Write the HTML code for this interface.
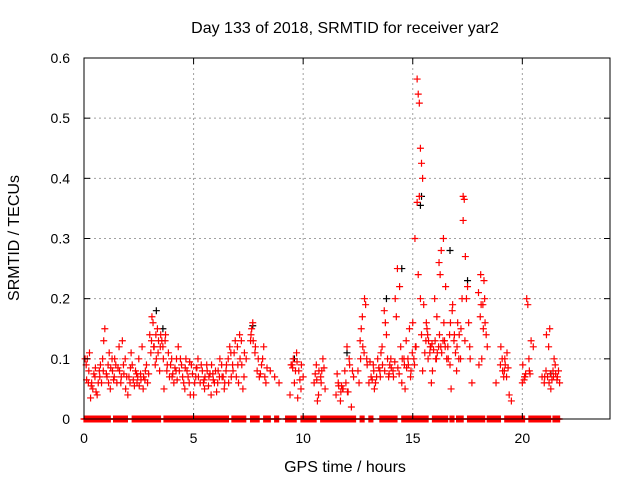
<!DOCTYPE html>
<html><head><meta charset="utf-8"><style>
body{margin:0;background:#fff}
svg text{font-family:"Liberation Sans",sans-serif;font-size:14px;fill:#000}
svg text.big{font-size:16px}
</style></head><body>
<svg id="c" width="640" height="480" viewBox="0 0 640 480">
<rect width="640" height="480" fill="#fff"/>
<g id="grid"></g>
<g id="marks"></g>
<rect x="84" y="58" width="526" height="361" fill="none" stroke="#000" stroke-width="1"/>
<g id="axes"></g>
<text class="big" x="345" y="33" text-anchor="middle">Day 133 of 2018, SRMTID for receiver yar2</text>
<text class="big" x="345" y="472" text-anchor="middle">GPS time / hours</text>
<text class="big" x="19" y="238" text-anchor="middle" transform="rotate(-90 19 238)">SRMTID / TECUs</text>
</svg>
<script>
const xTicks=[0,5,10,15,20];
const yTicks=[0,0.1,0.2,0.3,0.4,0.5,0.6];
const yTickLabels=["0","0.1","0.2","0.3","0.4","0.5","0.6"];
const redT=[0.1,.2,.25,.3,.4,.5,.6,.7,.8,.9,.95,.15,.35,.55,.75,
1.05,1.1,1.2,1.3,1.4,1.5,1.6,1.7,1.8,1.9,1.15,1.35,1.55,1.75,1.95,
2.0,2.1,2.2,2.3,2.4,2.5,2.6,2.7,2.8,2.9,2.15,2.45,2.65,2.85,
3.0,3.1,3.15,3.2,3.3,3.4,3.05,3.25,3.35,3.45,
3.5,3.6,3.7,3.8,3.9,4.0,4.1,4.2,4.3,4.4,3.65,3.85,4.05,4.25,
4.5,4.6,4.7,4.8,4.9,5.0,5.1,5.2,5.3,5.4,5.5,5.6,5.7,5.8,5.9,6.0,6.1,6.2,6.3,6.4,6.5,6.6,6.7,6.8,6.9,4.65,4.85,5.15,5.45,5.75,6.05,6.35,6.65,
7.0,7.1,7.2,7.3,7.4,7.6,7.65,7.7,7.8,7.9,7.05,7.25,
8.0,8.1,8.2,8.3,8.5,8.7,8.9,8.15,
9.4,9.5,9.6,9.7,9.8,9.9,10.0,9.55,9.75,
10.5,10.6,10.7,10.8,10.9,11.0,10.65,10.85,
11.5,11.6,11.7,11.8,11.9,12.0,12.1,12.2,12.3,11.75,12.05,
12.5,12.6,12.7,12.8,12.9,13.0,12.65,12.85,
13.1,13.2,13.3,13.4,13.5,13.6,13.7,13.8,13.9,14.0,13.25,13.55,13.75,13.95,
14.1,14.2,14.3,14.4,14.5,14.6,14.7,14.8,14.9,14.25,14.45,14.65,14.85,
15.0,15.1,15.2,15.25,15.3,15.35,15.4,15.45,15.2,15.3,15.25,15.35,15.15,15.05,15.4,15.5,
15.6,15.7,15.8,15.9,16.0,16.1,16.2,16.3,16.4,16.5,15.65,15.85,16.05,16.25,16.45,
16.6,16.7,16.8,16.9,17.0,17.1,17.2,17.3,17.35,17.4,17.5,17.6,17.7,17.3,17.25,16.75,17.05,
18.0,18.1,18.2,18.3,18.4,18.15,18.25,
18.8,19.0,19.1,19.2,19.3,19.4,19.5,19.15,
20.0,20.1,20.2,20.25,20.3,20.4,20.5,20.15,
20.9,21.0,21.1,21.2,21.3,21.4,21.5,21.6,21.7,21.25,21.45];
const redV=[.09,.06,.11,.035,.05,.07,.04,.08,.06,.13,.15,.1,.06,.045,.09,
.07,.09,.05,.08,.1,.06,.12,.07,.09,.05,.11,.065,.085,.13,.07,
.04,.06,.09,.055,.075,.1,.065,.05,.08,.06,.11,.07,.12,.09,
.14,.17,.16,.12,.1,.13,.11,.09,.15,.08,
.14,.12,.13,.09,.07,.1,.06,.08,.12,.1,.05,.11,.075,.065,
.07,.05,.08,.06,.09,.04,.07,.1,.06,.08,.05,.09,.07,.04,.065,.08,.06,.1,.07,.05,.09,.06,.11,.08,.13,.1,.04,.085,.06,.075,.045,.07,.12,
.12,.14,.09,.07,.1,.13,.15,.16,.11,.08,.06,.05,
.07,.09,.12,.06,.08,.07,.06,.1,
.04,.09,.06,.11,.08,.05,.07,.1,.035,
.06,.09,.04,.07,.1,.05,.03,.08,
.04,.06,.03,.05,.08,.12,.1,.02,.07,.055,.045,
.08,.13,.17,.2,.1,.06,.15,.19,
.07,.09,.06,.1,.08,.12,.18,.14,.07,.1,.05,.11,.16,.09,
.08,.2,.25,.22,.06,.1,.13,.09,.07,.17,.12,.05,.15,
.16,.3,.565,.54,.525,.45,.425,.4,.36,.37,.24,.2,.12,.1,.14,.19,
.13,.1,.12,.08,.2,.17,.26,.28,.3,.22,.15,.06,.1,.24,.13,
.12,.09,.18,.14,.08,.1,.15,.37,.365,.27,.22,.12,.06,.33,.2,.05,.16,
.21,.24,.19,.16,.12,.1,.23,
.06,.09,.08,.1,.11,.04,.03,.07,
.06,.07,.2,.19,.1,.13,.12,.075,
.07,.06,.14,.12,.05,.08,.09,.07,.06,.15,.1];
const extraT=[0.05,0.12,0.22,0.33,0.45,0.52,0.65,0.72,0.85,0.88,1.02,1.12,1.22,1.28,1.38,1.45,1.62,1.68,1.82,1.88,
2.05,2.12,2.25,2.35,2.42,2.52,2.58,2.72,2.78,2.95,3.08,3.18,3.28,3.38,3.48,3.55,3.62,3.72,3.78,3.95,4.02,4.15,4.22,4.35,4.45,
4.55,4.62,4.75,4.82,4.95,5.05,5.12,5.22,5.35,5.48,5.52,5.62,5.68,5.82,5.88,5.95,6.12,6.18,6.28,6.42,6.48,6.58,6.72,6.78,6.85,6.95,
7.02,7.12,7.18,7.32,7.62,7.72,7.82,7.95,8.05,8.25,8.35,9.45,9.52,9.65,9.72,9.85,9.92,10.55,10.62,10.72,10.82,10.95,
11.55,11.62,11.72,11.82,11.95,12.02,12.12,12.25,12.55,12.62,12.72,12.78,12.92,13.05,13.15,13.22,13.35,13.45,13.52,13.62,13.72,13.85,13.92,
14.02,14.12,14.18,14.32,14.38,14.52,14.62,14.72,14.78,14.92,14.98,15.08,15.12,15.45,15.55,15.62,15.68,15.72,15.78,15.82,15.88,15.95,16.02,16.08,16.12,16.18,16.22,16.28,16.32,16.38,16.42,16.48,
16.55,16.62,16.68,16.72,16.82,16.88,16.95,17.02,17.12,17.18,17.38,17.45,17.55,17.62,18.02,18.08,18.12,18.22,18.28,18.35,
19.02,19.08,19.18,19.22,19.28,19.35,20.02,20.08,20.12,20.32,20.35,21.02,21.08,21.15,21.22,21.28,21.35,21.42,21.52,21.58,21.65];
const extraV=[.1,.065,.08,.055,.075,.085,.06,.07,.1,.08,.075,.06,.085,.1,.07,.09,.08,.06,.075,.1,
.07,.085,.065,.08,.06,.055,.075,.07,.065,.075,.13,.12,.14,.11,.12,.13,.1,.14,.08,.09,.07,.085,.1,.08,.09,
.06,.085,.07,.095,.075,.06,.085,.07,.09,.065,.07,.08,.055,.09,.075,.06,.08,.07,.09,.06,.08,.1,.07,.09,.11,.07,
.09,.1,.13,.11,.14,.13,.12,.1,.075,.07,.085,.09,.085,.08,.095,.065,.09,.075,.065,.08,.06,.085,.075,
.055,.045,.05,.06,.045,.09,.08,.06,.1,.12,.11,.09,.095,.065,.08,.07,.085,.07,.09,.08,.1,.075,.085,
.07,.095,.085,.075,.1,.09,.085,.1,.08,.11,.09,.12,.08,.11,.16,.14,.13,.11,.12,.125,.115,.13,.1,.11,.12,.14,.12,.11,.13,.16,.12,.1,
.1,.14,.16,.19,.13,.11,.12,.14,.1,.13,.2,.16,.1,.09,.17,.19,.15,.2,.14,.12,
.1,.08,.09,.07,.085,.09,.065,.07,.08,.075,.07,.08,.07,.06,.075,.065,.07,.075,.065,.08,.07];
const blackT=[3.3,15.4,15.35,16.7,14.5,7.7,12.0,13.8,17.5,21.3,3.6,9.6];
const blackV=[.18,.37,.355,.28,.25,.155,.11,.2,.23,.075,.15,.1];
const zeroStarts=[0,1.35,2.2,3.65,6.75,7.6,8.2,8.7,9.2,9.9,10.8,12.6,13.0,13.5,14.5,15.9,16.7,17.0,17.5,18.4,19.2,20.3,21.4];
const zeroEnds=[1.2,2.0,3.5,6.6,7.4,8.0,8.5,8.9,9.7,10.6,12.4,12.8,13.2,14.3,15.7,16.6,16.9,17.3,18.3,19.0,20.1,21.3,21.7];
const NS="http://www.w3.org/2000/svg";
const X=t=>84+t*(526/24), Y=v=>419-v*(361/0.6);
function mk(tag,a,p){const e=document.createElementNS(NS,tag);for(const k in a)e.setAttribute(k,a[k]);p.appendChild(e);return e;}
const grid=document.getElementById('grid'),axes=document.getElementById('axes'),marks=document.getElementById('marks');
xTicks.forEach(t=>{const x=X(t);
 if(t>0){const g=mk('line',{x1:x,y1:58,x2:x,y2:419,stroke:'#a0a0a0','stroke-dasharray':'2,3'},grid);}
 mk('line',{x1:x,y1:419,x2:x,y2:413,stroke:'#000'},axes);mk('line',{x1:x,y1:58,x2:x,y2:64,stroke:'#000'},axes);
 const l=mk('text',{x:x,y:443,'text-anchor':'middle'},axes);l.textContent=t;
 });
yTicks.forEach((v,i)=>{const y=Y(v);
 if(v>0&&v<0.6){const g=mk('line',{x1:84,y1:y,x2:610,y2:y,stroke:'#a0a0a0','stroke-dasharray':'2,3'},grid);}
 mk('line',{x1:84,y1:y,x2:90,y2:y,stroke:'#000'},axes);mk('line',{x1:610,y1:y,x2:604,y2:y,stroke:'#000'},axes);
 const l=mk('text',{x:70,y:y+5,'text-anchor':'end'},axes);l.textContent=yTickLabels[i];
 });
function plus(t,v,col,name){const x=X(t),y=Y(v);
 const p=mk('path',{d:`M${x-3.5},${y}h7M${x},${y-3.5}v7`,stroke:col,'stroke-width':1.2,fill:'none'},marks);
 
 }
blackT.forEach((t,i)=>plus(t,blackV[i],'#000','black-point'));
zeroStarts.forEach((s,i)=>{for(let t=s;t<=zeroEnds[i]+1e-9;t+=0.03)plus(t,0,'#f00','zero-point');});
redT.forEach((t,i)=>plus(t,redV[i],'#f00','red-point'));
extraT.forEach((t,i)=>plus(t,extraV[i],'#f00','red-point'));
</script>
</body></html>
